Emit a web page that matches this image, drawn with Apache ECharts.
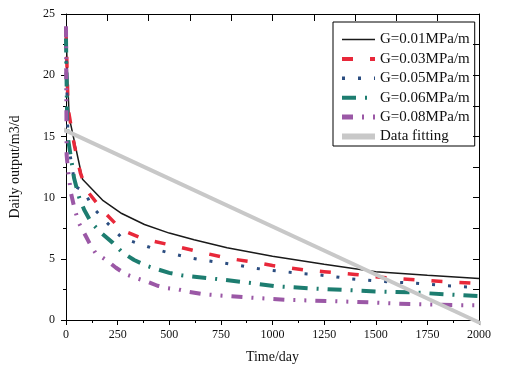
<!DOCTYPE html>
<html>
<head>
<meta charset="utf-8">
<script src="https://cdn.jsdelivr.net/npm/echarts@6/dist/echarts.min.js"></script>
<style>
  html, body { margin: 0; padding: 0; background: #fff; }
  #myChart { width: 513px; height: 370px; }
</style>
</head>
<body>
<div id="myChart"></div>
<script>
let myChart = echarts.init(document.getElementById('myChart'));

const seriesNames = ['G=0.01MPa/m', 'G=0.03MPa/m', 'G=0.05MPa/m', 'G=0.06MPa/m', 'G=0.08MPa/m', 'Data fitting'];

// [day, daily output]
const g001 = [[0, 23.5], [15, 16.6], [80, 11.5], [180, 9.75], [270, 8.7], [380, 7.8], [500, 7.1], [620, 6.55],
  [780, 5.9], [1000, 5.2], [1250, 4.55], [1500, 3.95], [1750, 3.65], [2000, 3.4]];
const g003 = [[0, 23.8], [10, 17.3], [40, 14.3], [70, 12.0], [100, 10.6], [180, 8.9], [270, 7.35], [380, 6.6],
  [500, 6.15], [650, 5.55], [780, 5.05], [900, 4.75], [1000, 4.45], [1150, 4.1], [1250, 3.95], [1400, 3.72],
  [1550, 3.45], [1700, 3.27], [1850, 3.12], [2000, 2.98]];
const g005 = [[0, 22.5], [10, 14.5], [45, 10.9], [90, 10.5], [124, 9.3], [196, 8.0], [271, 6.7], [350, 6.25],
  [430, 5.8], [507, 5.45], [588, 5.12], [663, 4.9], [744, 4.7], [821, 4.5], [902, 4.27], [977, 4.08],
  [1058, 3.95], [1135, 3.8], [1216, 3.7], [1300, 3.54], [1370, 3.38], [1450, 3.27], [1530, 3.15],
  [1610, 3.08], [1690, 3.0], [1844, 2.8], [1925, 2.72], [2000, 2.65]];
const g006 = [[0, 23.0], [5, 17.0], [8, 15.0], [30, 12.6], [39, 11.6], [64, 10.0], [88, 9.0], [121, 8.0],
  [165, 7.2], [227, 6.3], [274, 5.5], [330, 4.9], [395, 4.4], [443, 4.14], [500, 3.85], [560, 3.65],
  [690, 3.42], [860, 3.1], [1020, 2.75], [1190, 2.58], [1350, 2.45], [1520, 2.32], [1690, 2.25],
  [1850, 2.08], [2000, 1.95]];
const g008 = [[0, 24.0], [3, 13.5], [10, 12.2], [16, 11.4], [25, 10.3], [40, 9.2], [60, 8.0], [85, 7.2],
  [113, 6.3], [142, 5.5], [196, 4.88], [242, 4.27], [290, 3.73], [343, 3.4], [395, 3.13], [443, 2.8],
  [491, 2.6], [543, 2.5], [596, 2.3], [670, 2.1], [870, 1.85], [1070, 1.65], [1270, 1.55], [1470, 1.44],
  [1665, 1.3], [1870, 1.22], [2000, 1.2]];
const fitting = [[-68, 16.0], [2061, -0.68]];

const xTicks = { min: 0, max: 2000, interval: 250 };
const yTicks = { min: 0, max: 25, interval: 5 };

const serif = 'Liberation Serif';

const lineDefs = [
  { data: g001, color: '#1a1a1a', width: 1.5, type: 'solid', legendWidth: 1.5 },
  { data: g003, color: '#e8283a', width: 3.5, type: [11, 17], legendWidth: 4 },
  { data: g005, color: '#2b4d80', width: 3, type: [3, 13], legendWidth: 3.5 },
  { data: g006, color: '#1d7d70', width: 4, type: [14, 9, 2, 9], legendWidth: 4 },
  { data: g008, color: '#9b58a6', width: 4, type: [11, 9, 2, 9, 2, 9], legendWidth: 5 },
  { data: fitting, color: '#c8c8c8', width: 4, type: 'solid', legendWidth: 6 }
];

let myChartOption = {
  animation: false,
  grid: { left: 65, right: 34, top: 14, bottom: 50 },
  legend: {
    orient: 'vertical',
    left: 333,
    top: 22,
    padding: [10, 5, 2, 6],
    itemWidth: 33,
    itemHeight: 14,
    itemGap: 4.4,
    borderColor: '#000',
    borderWidth: 1,
    borderRadius: 0,
    textStyle: { fontFamily: serif, fontSize: 15, color: '#111', lineHeight: 14 },
    data: seriesNames.map(function (name, i) {
      return {
        name: name,
        itemStyle: { opacity: 0 },
        lineStyle: { width: lineDefs[i].legendWidth, opacity: 1 }
      };
    })
  },
  xAxis: [
    {
      type: 'value',
      min: xTicks.min,
      max: xTicks.max,
      interval: xTicks.interval,
      name: 'Time/day',
      nameLocation: 'middle',
      nameGap: 30,
      nameTextStyle: { fontFamily: serif, fontSize: 14, color: '#111' },
      axisLine: { show: true, onZero: false, lineStyle: { color: '#000', width: 1 } },
      axisTick: { show: true, inside: false, length: 5, lineStyle: { color: '#000' } },
      minorTick: { show: true, splitNumber: 2, length: 3, lineStyle: { color: '#000' } },
      axisLabel: { fontFamily: serif, fontSize: 12, color: '#111', margin: 9, formatter: function (v) { return String(v); } },
      splitLine: { show: false }
    },
    {
      type: 'value',
      position: 'top',
      min: 0,
      max: 2000,
      interval: 200,
      axisLine: { show: true, onZero: false, lineStyle: { color: '#000', width: 1 } },
      axisTick: { show: true, inside: true, length: 7, lineStyle: { color: '#000', width: 1 } },
      axisLabel: { show: false },
      splitLine: { show: false }
    }
  ],
  yAxis: [
    {
      type: 'value',
      min: yTicks.min,
      max: yTicks.max,
      interval: yTicks.interval,
      name: 'Daily output/m3/d',
      nameLocation: 'middle',
      nameGap: 44,
      nameTextStyle: { fontFamily: serif, fontSize: 14, color: '#111' },
      axisLine: { show: true, onZero: false, lineStyle: { color: '#000', width: 1 } },
      axisTick: { show: true, inside: false, length: 5, lineStyle: { color: '#000' } },
      minorTick: { show: true, splitNumber: 2, length: 3, lineStyle: { color: '#000' } },
      axisLabel: { fontFamily: serif, fontSize: 12, color: '#111', margin: 11 },
      splitLine: { show: false }
    },
    {
      type: 'value',
      position: 'right',
      min: 0,
      max: 25,
      interval: 2.5,
      axisLine: { show: true, onZero: false, lineStyle: { color: '#000', width: 1 } },
      axisTick: { show: true, inside: true, length: 6, lineStyle: { color: '#000', width: 1 } },
      axisLabel: { show: false },
      splitLine: { show: false }
    }
  ],
  series: lineDefs.map(function (d, i) {
    return {
      name: seriesNames[i],
      type: 'line',
      xAxisIndex: 0,
      yAxisIndex: 0,
      data: d.data,
      symbol: 'none',
      clip: i !== 5,
      lineStyle: { color: d.color, width: d.width, type: d.type, cap: 'butt' },
      itemStyle: { color: d.color },
      z: i === 5 ? 5 : 2
    };
  })
};

myChart.setOption(myChartOption);
</script>
</body>
</html>
